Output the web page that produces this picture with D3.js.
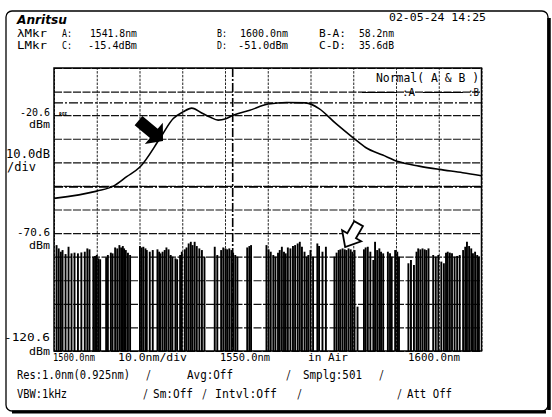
<!DOCTYPE html>
<html><head><meta charset="utf-8">
<script src="https://cdn.jsdelivr.net/npm/d3@7"></script>
<style>body{margin:0;background:#fff}svg{display:block}</style>
</head><body>
<svg id="c" width="552" height="417"></svg>
<script>
// ---- data ----
const gridNm = [1500,1510,1520,1530,1540,1550,1560,1570,1580,1590,1600];
const gridDbm = [-120.6,-110.6,-100.6,-90.6,-80.6,-70.6,-60.6,-50.6,-40.6,-30.6,-20.6,-10.6,-0.6];
const markerNm = [1541.8, 1600.0];       // A, B
const markerDbm = [-15.4, -51.0];        // C, D
const specNm  = [1500,1510,1513.9,1517.0,1520.1,1524.8,1527.9,1530.2,1532.2,1534.8,1536.5,1538.4,1540.2,1541.9,1545.8,1550.1,1554.4,1558.9,1562.0,1565.9,1570.2,1572.9,1576.9,1580.7,1585.4,1590.1,1595.6,1600];
const specDbm = [-55.9,-52.8,-50.7,-46.7,-42.6,-30.4,-22.0,-19.2,-17.6,-19.9,-21.4,-22.7,-22.1,-20.6,-18.5,-15.9,-15.2,-15.4,-17.8,-24.1,-30.5,-34.3,-37.5,-40.4,-42.2,-43.6,-45.0,-46.3];
const noiseNm = [1500.6,1501.1,1501.6,1502.0,1502.7,1503.4,1504.1,1504.8,1505.6,1506.4,1507.2,1507.8,1508.3,1509.2,1509.6,1510.0,1510.4,1510.8,1512.2,1512.6,1513.3,1513.7,1514.3,1514.8,1515.3,1515.7,1516.1,1516.4,1516.8,1517.3,1517.8,
1520.1,1520.5,1520.9,1521.4,1521.7,1522.4,1523.1,1524.2,1524.6,1524.9,1525.4,1525.9,1526.3,1526.8,1527.3,1527.7,1528.4,1528.8,1529.5,1529.9,1530.6,1531.0,1531.5,1532.0,1532.4,1532.9,1533.4,1534.0,1534.6,1535.2,
1537.6,1538.2,1539.1,1539.6,1540.1,1540.5,1541.0,1541.5,1541.9,1542.4,1542.9,1545.2,1545.7,1546.1,1549.7,1550.2,1550.7,1551.3,1551.8,
1552.4,1552.8,1553.3,1553.8,1554.2,1554.7,1555.3,1555.9,1556.4,1557.0,1557.5,1558.0,1558.6,1559.1,1559.5,1560.0,1560.6,1561.6,1562.0,1562.8,1563.6,
1565.6,1566.1,1566.6,1567.0,1567.5,1568.0,1568.4,1568.9,1569.4,1569.8,1570.3,1571.0,1572.5,1572.9,1573.4,1574.0,1574.7,1575.1,1575.6,1576.1,1576.5,1577.0,1578.1,1578.6,1579.0,1579.8,1580.3,1580.7,
1582.9,1583.5,1584.2,1584.8,1585.2,1585.7,1586.2,1586.7,1587.1,1587.6,1588.7,1589.3,1589.9,1590.6,1591.2,1591.7,1592.1,1592.6,1593.1,1593.7,1594.3,1594.9,1595.7,1596.2,1596.6,1597.1,1597.6,1598.0,1598.5,1599.0,1599.4];
const noiseDbm = [-75.7,-77.1,-78.5,-77.8,-79.5,-76.4,-79.2,-78.9,-79.2,-78.8,-78.5,-77.1,-77.5,-80.6,-80.3,-79.9,-81.3,-81.7,-80.9,-79.9,-78.9,-79.2,-76.7,-77.1,-75.7,-76.7,-76.1,-77.1,-77.8,-78.9,-79.9,
-76.1,-76.7,-76.4,-77.1,-77.8,-78.5,-77.8,-77.5,-78.5,-79.2,-78.5,-77.8,-76.7,-77.5,-79.9,-80.6,-81.3,-81.7,-79.9,-78.5,-77.5,-76.7,-75.0,-74.3,-75.7,-74.3,-76.1,-77.1,-77.8,-80.6,
-76.4,-79.9,-77.8,-76.7,-77.1,-77.5,-77.1,-77.8,-78.9,-79.9,-80.6,-76.7,-76.1,-75.7,-75.7,-77.5,-78.5,-79.9,-80.6,
-78.9,-77.8,-76.4,-78.5,-79.2,-76.7,-77.1,-76.1,-75.7,-75.0,-74.3,-76.4,-78.5,-80.6,-79.9,-77.8,-80.6,-75.0,-76.1,-78.5,-76.4,
-80.6,-78.9,-77.8,-77.5,-77.1,-77.5,-77.8,-77.1,-77.5,-78.5,-77.8,-101.8,-77.5,-76.7,-76.4,-78.5,-82.0,-74.3,-77.8,-77.1,-78.5,-79.2,-78.5,-79.2,-80.6,-77.8,-78.5,-80.6,
-83.4,-82.0,-84.1,-78.5,-77.1,-77.5,-77.1,-77.5,-77.8,-77.1,-79.9,-80.6,-79.9,-82.7,-83.4,-78.9,-78.5,-78.9,-79.2,-80.6,-80.3,-79.9,-77.8,-76.4,-74.3,-76.1,-77.1,-79.2,-78.5,-79.9,-80.6];
const arrowTipsNm = [1525.5, 1568.1];
const arrowTipsDbm = [-31.6, -76.5];

// ---- drawing ----
const svg = d3.select("#c");
const x = d3.scaleLinear().domain([1500,1600]).range([54,481.5]);
const y = d3.scaleLinear().domain([-120.6,-0.6]).range([351,68]);
const FONT = "'DejaVu Sans Mono', monospace";

// outer frame
svg.append("rect").attr("x",6).attr("y",11).attr("width",542).attr("height",400).attr("rx",6)
  .attr("fill","none").attr("stroke","#000").attr("stroke-width",1.3);
svg.append("line").attr("x1",549).attr("x2",549).attr("y1",18).attr("y2",410).attr("stroke","#000").attr("stroke-width",3.5);
svg.append("line").attr("x1",12).attr("x2",546).attr("y1",412).attr("y2",412).attr("stroke","#000").attr("stroke-width",3);

const plot = svg.append("g");
// grid
plot.append("g").attr("transform","translate(0,351)")
  .call(d3.axisBottom(x).tickValues(gridNm).tickSize(-283).tickFormat(""))
  .call(g=>g.select(".domain").remove())
  .selectAll("line").attr("stroke","#222").attr("stroke-width",1).attr("stroke-dasharray","2.5,1.3");
plot.append("g").attr("transform","translate(54,0)")
  .call(d3.axisLeft(y).tickValues(gridDbm).tickSize(-427.5).tickFormat(""))
  .call(g=>g.select(".domain").remove())
  .selectAll("line").attr("stroke","#111").attr("stroke-width",1.1).attr("stroke-dasharray","8,1.5");

// marker lines
plot.append("line").attr("x1",x(markerNm[0])).attr("x2",x(markerNm[0])).attr("y1",y(-0.6)).attr("y2",y(-120.6))
  .attr("stroke","#000").attr("stroke-width",1.6).attr("stroke-dasharray","9,2,2,2");
markerDbm.forEach((v,i)=>{
  plot.append("line").attr("x1",x(1500)).attr("x2",x(1600)).attr("y1",y(v)).attr("y2",y(v))
    .attr("stroke","#000").attr("stroke-width",i?1.6:1.2).attr("stroke-dasharray","9,2,2,2");
});

// noise trace (trace spikes)
plot.append("g").selectAll("line").data(noiseNm).join("line")
  .attr("x1",d=>x(d)).attr("x2",d=>x(d))
  .attr("y1",y(-120.6)).attr("y2",(d,i)=>y(noiseDbm[i]))
  .attr("stroke","#000").attr("stroke-width",1.9);

// spectrum
const line = d3.line().x((d,i)=>x(specNm[i])).y((d,i)=>y(specDbm[i])).curve(d3.curveMonotoneX);
plot.append("path").attr("d",line(specNm)).attr("fill","none").attr("stroke","#000").attr("stroke-width",1.6);

// plot border
plot.append("rect").attr("x",54).attr("y",68).attr("width",427.5).attr("height",283)
  .attr("fill","none").attr("stroke","#000").attr("stroke-width",1.5);

// arrows
const arrowA = [[0,-6],[20,-6],[20,-14],[32,0],[20,14],[20,6],[0,6]];
svg.append("path").attr("d","M"+arrowA.join("L")+"Z")
  .attr("transform",`translate(${x(arrowTipsNm[0])},${y(arrowTipsDbm[0])}) rotate(40) translate(-32,0)`)
  .attr("fill","#000");
const arrowB = [[0,-5],[14,-5],[14,-11],[27,0],[14,11],[14,5],[0,5]];
svg.append("path").attr("d","M"+arrowB.join("L")+"Z")
  .attr("transform",`translate(${x(arrowTipsNm[1])},${y(arrowTipsDbm[1])}) rotate(120) translate(-27,0)`)
  .attr("fill","#fff").attr("stroke","#000").attr("stroke-width",1.8).attr("stroke-linejoin","miter");

// text helper
function T(xp, yp, s, w, opt={}) {
  const t = svg.append("text").attr("x",xp).attr("y",yp).text(s)
    .attr("font-family", opt.family || FONT).attr("font-size", opt.size || 12)
    .attr("fill","#000");
  if (w) t.attr("textLength", w).attr("lengthAdjust","spacingAndGlyphs");
  if (opt.anchor) t.attr("text-anchor", opt.anchor);
  if (opt.weight) t.attr("font-weight", opt.weight);
  if (opt.style) t.attr("font-style", opt.style);
  return t;
}
// header
const H = {size:10.2};
T(17,24,"Anritsu",50,{family:"'DejaVu Sans', sans-serif",size:12,weight:"bold",style:"italic"});
T(389,21,"02-05-24 14:25",97,{size:11});
T(17,37,"λMkr",30,H); T(62,37,"A:",10,H); T(90,37,"1541.8nm",47,H);
T(217,37,"B:",10,H); T(240,37,"1600.0nm",48,H); T(319,37,"B-A:",27,H); T(359,37,"58.2nm",35,H);
T(17,49,"LMkr",30,H); T(62,49,"C:",10,H); T(88,49,"-15.4dBm",49,H);
T(217,49,"D:",10,H); T(238,49,"-51.0dBm",50,H); T(319,49,"C-D:",27,H); T(359,49,"35.6dB",35,H);

// left labels
T(50,116,"-20.6",30,{anchor:"end",size:11}); T(50,128,"dBm",21,{anchor:"end",size:10.5});
T(59,116,"REF",8,{family:"'DejaVu Sans', sans-serif",size:5,weight:"bold"});
T(6,158,"10.0dB",44); T(7,171,"/div",29);
T(50,236,"-70.6",33,{anchor:"end",size:11}); T(50,249,"dBm",21,{anchor:"end",size:10.5});
T(50,341,"-120.6",46,{anchor:"end",size:11}); T(50,355,"dBm",21,{anchor:"end",size:10.5});

// bottom labels
T(53,361,"1500.0nm",42,{size:11}); T(118,361,"10.0nm/div",69,{size:11}); T(220,361,"1550.0nm",50,{size:11});
T(308,361,"in Air",40,{size:11}); T(408,361,"1600.0nm",52,{size:11});
T(17,379,"Res:1.0nm(0.925nm)",113); T(146,379,"/",5); T(187,379,"Avg:Off",46);
T(286,379,"/",5); T(303,379,"Smplg:501",59); T(379,379,"/",5);
T(17,398,"VBW:1kHz",50); T(143,398,"/",5); T(153,398,"Sm:Off",40);
T(202,398,"/",5); T(215,398,"Intvl:Off",62); T(297,398,"/",5);
T(397,398,"/",5); T(407,398,"Att Off",45);

// legend
T(376,82,"Normal( A & B )",103,{size:11.5});
svg.append("line").attr("x1",362).attr("x2",397).attr("y1",92.5).attr("y2",92.5).attr("stroke","#000").attr("stroke-width",1.2);
T(402,96,":A",13,{size:11});
svg.append("line").attr("x1",423).attr("x2",463).attr("y1",92.5).attr("y2",92.5).attr("stroke","#000").attr("stroke-width",1.2);
T(468,96,":B",11,{size:11});
</script>
</body></html>
